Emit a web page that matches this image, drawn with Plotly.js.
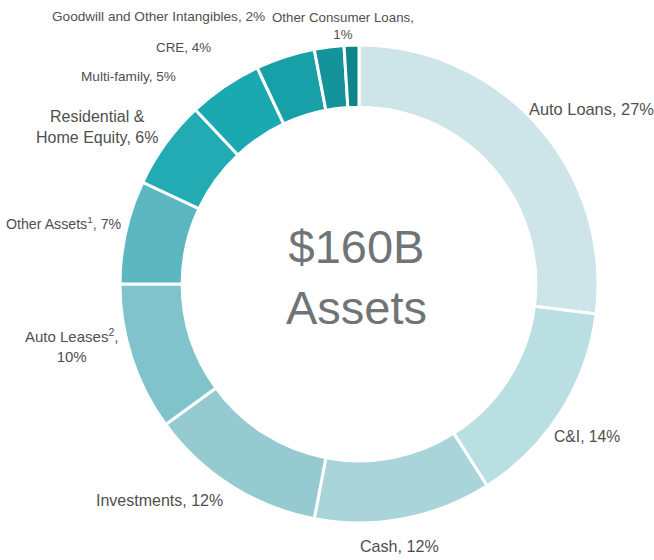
<!DOCTYPE html>
<html>
<head>
<meta charset="utf-8">
<script src="https://cdn.plot.ly/plotly-3.0.1.min.js"></script>
<style>html,body{margin:0;padding:0;background:#fff;}#chart{width:654px;height:560px;}</style>
</head>
<body>
<div id="chart"></div>
<script>
const categories = ["Auto Loans","C&I","Cash","Investments","Auto Leases","Other Assets","Residential & Home Equity","Multi-family","CRE","Goodwill and Other Intangibles","Other Consumer Loans"];
const shares = [27,14,12,12,10,7,6,5,4,2,1];
const sliceColors = ["#cde4e8","#badfe3","#a9d4da","#96cad1","#80c3ca","#5db7c0","#22abb3","#1aa9b1","#17a0a8","#15939a","#0f868c"];
const labelTexts = ["Auto Loans, 27%","C&amp;I, 14%","Cash, 12%","Investments, 12%","Auto Leases<sup>2</sup>,<br>10%","Other Assets<sup>1</sup>, 7%","Residential &amp;<br>Home Equity, 6%","Multi-family, 5%","CRE, 4%","Goodwill and Other Intangibles, 2%","Other Consumer Loans,<br>1%"];
const centerText = "$160B<br>Assets";

const W = 654, H = 560;
// label anchor positions (px) and font sizes (layout only)
const labelPos = [[591,109],[587,436],[399,546],[159,500],[71,345],[64,223],[97,127],[128,77],[183,47],[158,16],[343,26]];
const labelSize = [16.4,15.7,16.1,16,15,14.2,16,13.6,13.4,13.6,13.3];
const REG = 'Liberation Sans, Arial, sans-serif';

const annotations = labelTexts.map((t,i)=>({
  text:t, xref:'paper', yref:'paper',
  x: labelPos[i][0]/W, y: 1 - labelPos[i][1]/H,
  xanchor:'center', yanchor:'middle', showarrow:false, align:'center',
  font:{family:REG, size:labelSize[i], color:'#4f4f4f'}
}));
annotations.push({
  text:centerText, xref:'paper', yref:'paper', x:356/W, y:1-277/H,
  xanchor:'center', yanchor:'middle', showarrow:false, align:'center',
  font:{family:REG, size:47, color:'#6f7577'}
});

const trace = {
  type:'pie', labels:categories, values:shares, sort:false, direction:'clockwise', rotation:0,
  hole:0.74, textinfo:'none', hoverinfo:'label+value',
  marker:{colors:sliceColors, line:{color:'#ffffff', width:3}},
  domain:{x:[120/W, 598/W], y:[1-523/H, 1-45/H]}
};

Plotly.newPlot('chart',[trace],{
  width:W, height:H, margin:{l:0,r:0,t:0,b:0}, showlegend:false,
  paper_bgcolor:'#ffffff', annotations:annotations
},{displayModeBar:false, staticPlot:true});
</script>
</body>
</html>
